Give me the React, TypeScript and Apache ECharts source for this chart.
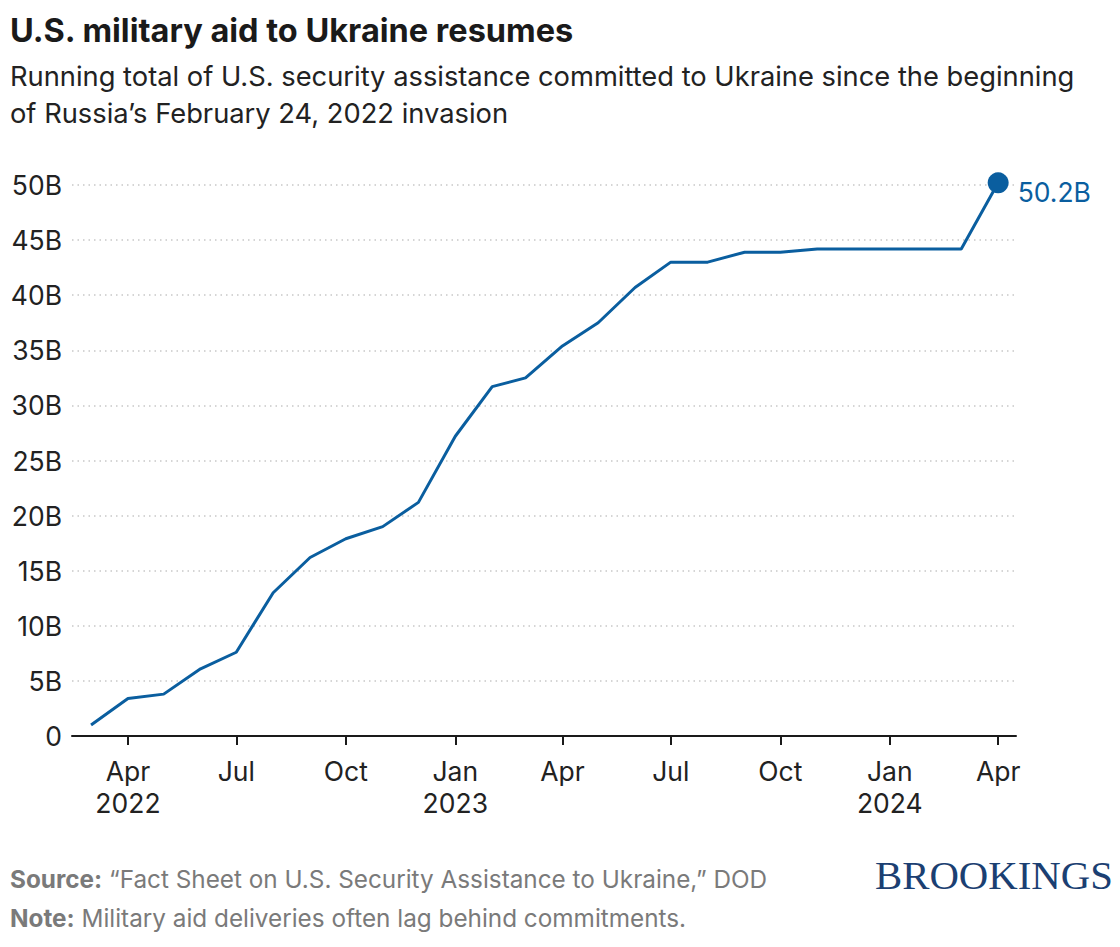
import React, { useEffect, useRef } from "react";
import * as echarts from "echarts";

// Monthly running total (billions USD), Mar 2022 .. Apr 2024
const monthStarts: [number, number][] = [
  [2022, 3], [2022, 4], [2022, 5], [2022, 6], [2022, 7], [2022, 8], [2022, 9], [2022, 10], [2022, 11], [2022, 12],
  [2023, 1], [2023, 2], [2023, 3], [2023, 4], [2023, 5], [2023, 6], [2023, 7], [2023, 8], [2023, 9], [2023, 10],
  [2023, 11], [2023, 12], [2024, 1], [2024, 2], [2024, 3], [2024, 4],
];
const totals: number[] = [
  1.0, 3.4, 3.8, 6.1, 7.6, 13.0, 16.2, 17.9, 19.0, 21.2,
  27.2, 31.7, 32.5, 35.4, 37.5, 40.7, 43.0, 43.0, 43.9, 43.9,
  44.2, 44.2, 44.2, 44.2, 44.2, 50.2,
];
const tickMonths: [number, number][] = [
  [2022, 4], [2022, 7], [2022, 10], [2023, 1], [2023, 4], [2023, 7], [2023, 10], [2024, 1], [2024, 4],
];
const monthNames = ["Jan", "Feb", "Mar", "Apr", "May", "Jun", "Jul", "Aug", "Sep", "Oct", "Nov", "Dec"];
const yTicks = [0, 5, 10, 15, 20, 25, 30, 35, 40, 45, 50];

const title = "U.S. military aid to Ukraine resumes";
const subtitle1 = "Running total of U.S. security assistance committed to Ukraine since the beginning";
const subtitle2 = "of Russia\u2019s February 24, 2022 invasion";
const sourceText = "\u201cFact Sheet on U.S. Security Assistance to Ukraine,\u201d DOD";
const noteText = "Military aid deliveries often lag behind commitments.";

const ts = (y: number, m: number, d = 1) => Date.UTC(y, m - 1, d);

export default function App() {
  const ref = useRef<HTMLDivElement>(null);
  useEffect(() => {
    document.body.style.margin = "0";
    if (!ref.current) return;
    const chart = echarts.init(ref.current, undefined, { renderer: "svg" });
    const blue = "#0a5e9f";
    const font = "Inter";
    const lineData = monthStarts.map(([y, m], i) => [ts(y, m), totals[i]]);
    const last = lineData[lineData.length - 1];
    const tickVals = tickMonths.map(([y, m]) => ts(y, m));

    chart.setOption({
      animation: false,
      grid: { left: 72, right: 104, top: 185, bottom: 211, containLabel: false },
      xAxis: {
        type: "value",
        min: ts(2022, 2, 13),
        max: ts(2024, 4, 16),
        axisLine: { show: true, lineStyle: { color: "#1a1a1a", width: 2 } },
        axisTick: { show: true, length: 9, lineStyle: { color: "#1a1a1a", width: 2 }, customValues: tickVals },
        axisLabel: {
          customValues: tickVals,
          margin: 19,
          color: "#222",
          fontFamily: font,
          fontSize: 26.5,
          lineHeight: 32,
          formatter: (v: number) => {
            const d = new Date(v);
            const mo = d.getUTCMonth();
            const yr = d.getUTCFullYear();
            const name = monthNames[mo];
            if (mo === 0 || (mo === 3 && yr === 2022)) return name + "\n" + yr;
            return name;
          },
        },
        splitLine: { show: false },
      },
      yAxis: {
        type: "value",
        min: 0,
        max: 50,
        interval: 5,
        axisLine: { show: false },
        axisTick: { show: false },
        axisLabel: {
          margin: 10,
          color: "#222",
          fontFamily: font,
          fontSize: 26.5,
          formatter: (v: number) => (yTicks.includes(v) ? (v === 0 ? "0" : v + "B") : ""),
        },
        splitLine: { show: true, lineStyle: { color: "#c8c8c8", width: 1.5, type: [1.5, 4] } },
      },
      series: [
        {
          type: "line",
          data: lineData,
          symbol: "none",
          clip: false,
          lineStyle: { color: blue, width: 3 },
          z: 3,
        },
        {
          type: "scatter",
          data: [last],
          symbol: "circle",
          symbolSize: 21,
          clip: false,
          itemStyle: { color: blue, opacity: 1 },
          label: {
            show: true,
            position: "right",
            distance: 9,
            offset: [0, 9],
            formatter: (p: any) => p.value[1].toFixed(1) + "B",
            color: blue,
            fontFamily: font,
            fontSize: 26.5,
          },
          z: 4,
        },
      ],
      graphic: [
        {
          type: "text",
          x: 10,
          y: 30,
          style: { text: title, fontFamily: font, fontSize: 32.5, fontWeight: "bold", fill: "#1a1a1a", verticalAlign: "middle" },
        },
        {
          type: "text",
          x: 10,
          y: 76,
          style: { text: subtitle1, fontFamily: font, fontSize: 27.3, fill: "#222", verticalAlign: "middle" },
        },
        {
          type: "text",
          x: 10,
          y: 113,
          style: { text: subtitle2, fontFamily: font, fontSize: 27.3, fill: "#222", verticalAlign: "middle" },
        },
        {
          type: "text",
          x: 10,
          y: 879,
          style: {
            text: "{b|Source:} " + sourceText,
            fontFamily: font,
            fontSize: 24.3,
            fill: "#7a7a7a",
            verticalAlign: "middle",
            rich: { b: { fontFamily: font, fontSize: 24.3, fontWeight: "bold", fill: "#7a7a7a" } },
          },
        },
        {
          type: "text",
          x: 10,
          y: 918,
          style: {
            text: "{b|Note:} " + noteText,
            fontFamily: font,
            fontSize: 24.3,
            fill: "#7a7a7a",
            verticalAlign: "middle",
            rich: { b: { fontFamily: font, fontSize: 24.3, fontWeight: "bold", fill: "#7a7a7a" } },
          },
        },
        {
          type: "text",
          x: 875,
          y: 876,
          scaleX: 1.02,
          style: { text: "BROOKINGS", fontFamily: "Liberation Serif", fontSize: 40, fill: "#1b3f72", verticalAlign: "middle" },
        },
      ],
    });
    return () => chart.dispose();
  }, []);
  return <div ref={ref} style={{ width: 1120, height: 947 }} />;
}
